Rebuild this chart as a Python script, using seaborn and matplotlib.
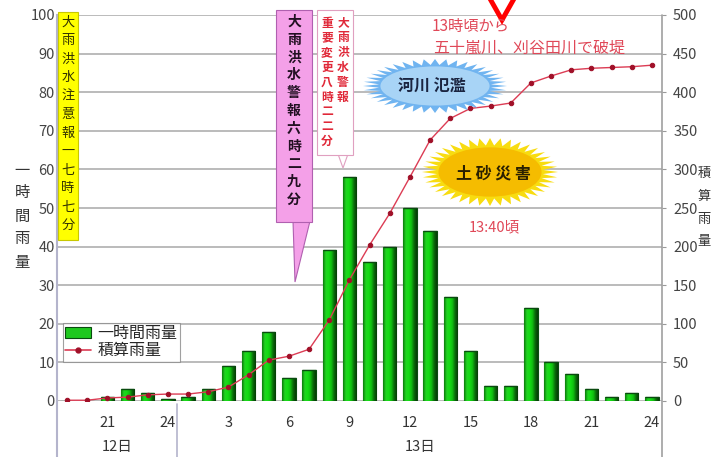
import numpy as np
import pandas as pd
import seaborn as sns
import matplotlib.pyplot as plt
from matplotlib.patches import Polygon, Ellipse, Rectangle, Patch
from matplotlib.lines import Line2D
from matplotlib.colors import LinearSegmentedColormap

# 12日19時 ～ 13日24時 (1時間ごと)
hours = [19, 20, 21, 22, 23, 24] + list(range(1, 25))
hourly = [0, 0, 1, 3, 2, 0.5, 1, 3, 9, 13, 18, 6, 8, 39, 58,
          36, 40, 50, 44, 27, 13, 4, 4, 24, 10, 7, 3, 1, 2, 1]
cumul = [1, 1, 4, 5, 8, 9, 9, 12, 18, 34, 53, 58, 67, 105, 157,
         202, 243, 290, 338, 366, 379, 382, 386, 412, 421, 429, 431, 432, 433, 435]
tick_hours = [21, 24, 3, 6, 9, 12, 15, 18, 21, 24]

W, H = 715, 457
GREEN = '#1ec81e'
RED = '#dc3c54'

sns.set_style('white')
plt.rcParams['font.family'] = ['Noto Sans CJK JP', 'DejaVu Sans']

df = pd.DataFrame({'idx': range(len(hours)), 'hour': hours,
                   'hourly': hourly, 'cumul': cumul})

fig = plt.figure(figsize=(W / 100, H / 100), dpi=100)
ax = fig.add_axes([57 / W, 1 - 401 / H, (662 - 57) / W, (401 - 15) / H])

sns.barplot(data=df, x='idx', y='hourly', color=GREEN, saturation=1,
            width=0.66, edgecolor='#0a4a10', linewidth=0.8, ax=ax)

# 棒に立体風のグラデーション
bar_cmap = LinearSegmentedColormap.from_list(
    'bar', ['#0c7a0c', '#22d422', '#14dc14', '#10c010', '#0a6a0a', '#063a06'])
grad = np.linspace(0, 1, 64).reshape(1, -1)
for p in list(ax.patches):
    h = p.get_height()
    if h <= 0:
        continue
    x0, y0, w = p.get_x(), p.get_y(), p.get_width()
    im = ax.imshow(grad, extent=[x0, x0 + w, y0, y0 + h], aspect='auto',
                   cmap=bar_cmap, zorder=p.get_zorder() + 0.1, interpolation='bilinear')
    im.set_clip_path(p)
    ax.plot([x0, x0 + w], [y0 + h, y0 + h], color='#0a4a10', lw=1,
            zorder=p.get_zorder() + 0.2, solid_capstyle='butt')

ax.set_xlim(-0.5, len(hours) - 0.5)
ax.set_ylim(0, 100)
ax.set_yticks(range(0, 101, 10))
ax.yaxis.grid(True, color='#a8a8a8', lw=1.1)
ax.set_axisbelow(True)
ax.set_xlabel('')
ax.set_ylabel('')

# 目盛 (x)
pos = [hours.index(h) if i < 2 else hours.index(h, 6) for i, h in enumerate(tick_hours)]
ax.set_xticks(pos)
ax.set_xticklabels([str(h) for h in tick_hours])
ax.tick_params(axis='x', length=0, pad=11, labelsize=10.5, labelcolor='#333333')
ax.tick_params(axis='y', length=0, pad=1.5, labelsize=10.5, labelcolor='#444444')
for s in ['top', 'bottom', 'right']:
    ax.spines[s].set_visible(False)
ax.spines['left'].set_color('#b4b4cc')
ax.spines['left'].set_linewidth(1.5)

ax2 = ax.twinx()
sns.lineplot(data=df, x='idx', y='cumul', ax=ax2, color=RED, lw=1.0,
             marker='o', markersize=3.2, markeredgecolor='#a01028',
             markerfacecolor='#a01028')
ax2.set_xlim(-0.5, len(hours) - 0.5)
ax2.set_ylim(0, 500)
ax2.set_yticks(range(0, 501, 50))
ax2.set_ylabel('')
ax2.set_xlabel('')
ax2.tick_params(axis='y', length=3, color='#999999', pad=5, labelsize=10.5,
                labelcolor='#444444')
for s in ['top', 'bottom', 'left', 'right']:
    ax2.spines[s].set_visible(False)

# 注記用のオーバーレイ (ピクセル座標)
ov = fig.add_axes([0, 0, 1, 1], zorder=5)
ov.set_xlim(0, W)
ov.set_ylim(H, 0)
ov.axis('off')
ov.patch.set_alpha(0)


def vtext(x, y0, step, s, **kw):
    for k, ch in enumerate(s):
        ov.text(x, y0 + k * step, ch, ha='center', va='center', **kw)


def burst(cx, cy, rx, ry, n, spike, c_out, c_in):
    ang = np.linspace(0, 2 * np.pi, 2 * n, endpoint=False)
    r = np.where(np.arange(2 * n) % 2 == 0, 1.0, 1.0 - spike)
    pts = np.column_stack([cx + rx * r * np.cos(ang), cy + ry * r * np.sin(ang)])
    ov.add_patch(Polygon(pts, closed=True, fc=c_out, ec='none'))
    ov.add_patch(Ellipse((cx, cy), 2 * rx * (1 - spike * 1.1), 2 * ry * (1 - spike * 1.25),
                         fc=c_in, ec='none'))


# 軸の延長線・日付区切り
ov.plot([57, 57], [401, 457], color='#b4b4cc', lw=1.5)
ov.plot([177, 177], [404, 457], color='#b4b4cc', lw=1.2)
ov.plot([662, 662], [15, 457], color='#a0a0a0', lw=1.2)
ov.text(117, 447, '12日', ha='center', va='center', fontsize=10.5, color='#333333')
ov.text(420, 447, '13日', ha='center', va='center', fontsize=10.5, color='#333333')

# 軸ラベル
vtext(22, 170, 23, '一時間雨量', fontsize=11, color='#333333')
vtext(704, 173, 23, '積算雨量', fontsize=9.5, color='#333333')

# 大雨洪水注意報
ov.add_patch(Rectangle((58, 12), 20, 228, fc='#ffff00', ec='#c8c800', lw=0.8))
vtext(68, 22, 18.5, '大雨洪水注意報一七時七分', fontsize=9.5, color='#333300')

# 大雨洪水警報 六時二九分
ov.add_patch(Polygon([(293, 221), (310, 221), (295, 282)], closed=True,
                     fc='#f4a0e8', ec='#b060b0', lw=0.8))
ov.add_patch(Rectangle((276, 10), 36, 212, fc='#f4a0e8', ec='#b060b0', lw=0.8))
vtext(294, 22, 17.8, '大雨洪水警報六時二九分', fontsize=10, color='#221022',
      fontweight='bold')

# 大雨洪水警報 重要変更
ov.add_patch(Polygon([(338, 154), (348, 154), (343, 168)], closed=True,
                     fc='white', ec='#e0a0c0', lw=0.8))
ov.add_patch(Rectangle((317, 10), 36, 145, fc='white', ec='#e0a0c0', lw=0.8))
vtext(343, 23, 14.8, '大雨洪水警報', fontsize=8.5, color='#e02838', fontweight='bold')
vtext(327, 23, 14.8, '重要変更八時二二分', fontsize=8.5, color='#e02838',
      fontweight='bold')

# 破堤
ov.plot([489, 502, 515], [-3, 20, -3], color='#ff0000', lw=3.5,
        solid_joinstyle='miter')
ov.text(432, 26, '13時頃から', ha='left', va='center', fontsize=11, color='#e04858')
ov.text(433, 48, '五十嵐川、刈谷田川で破堤', ha='left', va='center', fontsize=11.5,
        color='#e04858')

# 河川氾濫 / 土砂災害
burst(435, 86, 72, 27, 40, 0.22, '#70b4f0', '#a8d4f6')
ov.text(432, 87, '河川 氾濫', ha='center', va='center', fontsize=11.5,
        fontweight='bold', color='#1a2440')
burst(490, 172, 68, 34, 40, 0.22, '#f8dc10', '#f5bc00')
ov.text(493, 173, '土 砂 災 害', ha='center', va='center', fontsize=11.5,
        fontweight='bold', color='#2a2000')
ov.text(494, 227, '13:40頃', ha='center', va='center', fontsize=10.5,
        color='#e04858')

# 凡例
handles = [Patch(fc=GREEN, ec='#0a4a10', lw=0.8),
           Line2D([], [], color=RED, lw=1.2, marker='o', markersize=3.5,
                  markerfacecolor='#a01028', markeredgecolor='#a01028')]
leg = ov.legend(handles, ['一時間雨量', '積算雨量'], loc='upper left',
                bbox_to_anchor=(63 / W, 1 - 323 / H), bbox_transform=fig.transFigure,
                fontsize=11.5, frameon=True, fancybox=False, borderpad=0.15,
                labelspacing=0.0, handlelength=1.6, handletextpad=0.4,
                borderaxespad=0)
leg.get_frame().set_edgecolor('#888888')
leg.get_frame().set_linewidth(0.8)

fig.savefig('out.png', dpi=100)
